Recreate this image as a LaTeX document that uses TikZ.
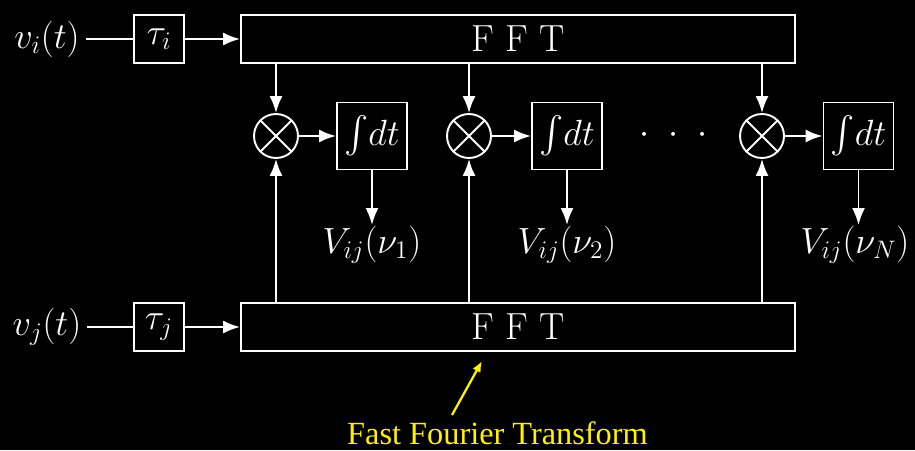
\documentclass[tikz,border=0pt]{standalone}
\usepackage{amsmath}
\usepackage{fontspec}
\newfontfamily\notefont{Liberation Serif}
\usetikzlibrary{arrows.meta}

\begin{document}
\begin{tikzpicture}[
  x=1cm, y=1cm,
  every node/.style={text=white, font=\fontsize{21.5}{26}\selectfont},
  box/.style={draw=white, line width=1.1pt, minimum width=1cm, minimum height=0.96cm, inner sep=0pt},
  fftbox/.style={box, minimum width=11.08cm},
  intbox/.style={box, minimum width=1.4cm, minimum height=1.34cm},
  mult/.style={circle, draw=white, line width=1.1pt, minimum size=0.88cm, inner sep=0pt},
  wire/.style={draw=white, line width=1.1pt},
  flow/.style={wire, -{Latex[length=0.34cm, width=0.26cm]}},
  note/.style={draw=yellow, line width=1.3pt, -{Latex[length=0.22cm, width=0.18cm]}}
  ]

  % Background
  \fill[black] (0,0) rectangle (18.3,9);
  \useasboundingbox (0,0) rectangle (18.3,9);

  % Define nodes
  \node (vi) at (0.94,8.22) {$v_i(t)$};
  \node[box] (taui) at (3.18,8.22) {$\tau_i$};
  \node[fftbox] (ffti) at (10.36,8.22) {F F T};

  \node (vj) at (0.94,2.46) {$v_j(t)$};
  \node[box] (tauj) at (3.18,2.46) {$\tau_j$};
  \node[fftbox] (fftj) at (10.36,2.46) {F F T};

  \node[mult] (m1) at (5.52,6.28) {};
  \node[mult] (m2) at (9.38,6.28) {};
  \node[mult] (mN) at (15.24,6.28) {};

  \node[intbox] (int1) at (7.44,6.28) {$\int\! dt$};
  \node[intbox] (int2) at (11.34,6.28) {$\int\! dt$};
  \node[intbox] (intN) at (17.17,6.28) {$\int\! dt$};

  \node (dots) at (13.48,6.3) {$\cdot$\enspace$\cdot$\enspace$\cdot$};

  \node (V1) at (7.44,4.1) {$V_{ij}(\nu_1)$};
  \node (V2) at (11.34,4.1) {$V_{ij}(\nu_2)$};
  \node (VN) at (17.1,4.1) {$V_{ij}(\nu_N)$};

  \node[text=yellow, anchor=base, font=\notefont\fontsize{18.4}{22}\selectfont] (fftnote) at (9.95,0.12) {Fast Fourier Transform};
  \coordinate (notetail) at (9.04,0.7);

  % Crosses in the multipliers
  \foreach \m in {m1,m2,mN} {
    \draw[wire] (\m.north east) -- (\m.south west);
    \draw[wire] (\m.north west) -- (\m.south east);
  }

  % Inputs
  \draw[wire] (vi) -- (taui);
  \draw[flow] (taui) -- (ffti);
  \draw[wire] (vj) -- (tauj);
  \draw[flow] (tauj) -- (fftj);

  % FFT outputs to the multipliers
  \foreach \m in {m1,m2,mN} {
    \draw[flow] (ffti.south -| \m) -- (\m.north);
    \draw[flow] (fftj.north -| \m) -- (\m.south);
  }

  % Multipliers to integrators to visibilities
  \draw[flow] (m1) -- (int1);
  \draw[flow] (m2) -- (int2);
  \draw[flow] (mN) -- (intN);
  \draw[flow] (int1.south) -- (int1.south |- 0,4.5);
  \draw[flow] (int2.south) -- (int2.south |- 0,4.5);
  \draw[flow] (intN.south) -- (intN.south |- 0,4.5);

  % Annotation
  \draw[note] (notetail) -- (9.64,1.78);

\end{tikzpicture}
\end{document}
